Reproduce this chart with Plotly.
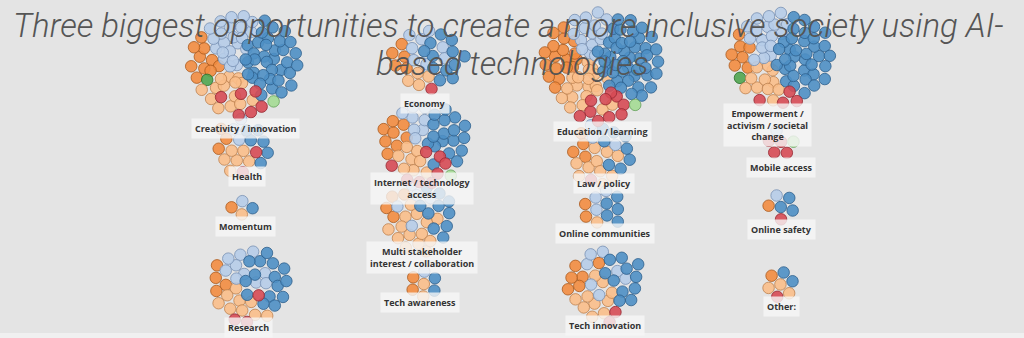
import numpy as np
import plotly.graph_objects as go

# Topics (one dot cluster each) and dot counts per respondent group
topics = [
    "Creativity / innovation", "Health", "Momentum", "Research",
    "Economy", "Internet / technology<br>access",
    "Multi stakeholder<br>interest / collaboration", "Tech awareness",
    "Education / learning", "Law / policy", "Online communities", "Tech innovation",
    "Empowerment /<br>activism / societal<br>change", "Mobile access",
    "Online safety", "Other:",
]
orange       = [10, 3, 1, 4,   5, 8, 4, 2,   18, 4, 2, 6,   7, 0, 1, 1]
light_orange = [14, 6, 1, 9,   4, 8, 14, 2,  20, 10, 1, 10, 11, 0, 0, 3]
light_blue   = [22, 3, 1, 10,  8, 8, 5, 1,   15, 3, 3, 7,   17, 1, 1, 0]
blue         = [36, 6, 1, 15,  12, 18, 10, 2, 45, 8, 5, 11, 35, 0, 3, 2]
red          = [6, 2, 0, 3,    1, 8, 0, 0,   10, 1, 0, 2,   4, 4, 1, 1]
green        = [1, 0, 0, 0,    0, 0, 0, 0,   0, 0, 0, 0,    1, 0, 0, 0]
light_green  = [1, 0, 0, 0,    0, 1, 0, 0,   1, 0, 0, 0,    0, 1, 0, 0]

groups = ["orange", "green", "light_orange", "light_blue", "blue", "red", "light_green"]
counts = {
    "orange": orange, "green": green, "light_orange": light_orange,
    "light_blue": light_blue, "blue": blue, "red": red, "light_green": light_green,
}

# ---- layout / styling (pixel space) ----
W, H = 1024, 338
cluster_xy = [
    (244, 64), (243, 146), (243, 208), (250, 285),
    (428, 60), (425, 142), (420, 216), (425, 284),
    (602, 64), (602, 153), (603, 209), (605, 284),
    (780, 58), (780, 140), (781, 206), (781, 283),
]
label_xy = [
    (245, 128), (247, 176), (245, 226), (248, 327),
    (425, 103), (422, 188), (422, 257), (420, 302),
    (602, 131), (604, 183), (605, 233), (605, 325),
    (767, 125), (781, 167), (781, 229), (781, 306),
]
# preferred position of each group inside a cluster (fraction of cluster radius)
group_pull = {
    "orange": (-0.85, -0.15), "green": (-0.85, 0.25), "light_orange": (-0.3, 0.45),
    "light_blue": (-0.25, -0.4), "blue": (0.55, -0.1), "red": (0.0, 0.85),
    "light_green": (0.45, 0.7),
}
fill = {
    "orange": "rgba(242,140,64,0.9)", "green": "rgba(80,165,80,0.9)",
    "light_orange": "rgba(249,190,138,0.9)", "light_blue": "rgba(182,204,232,0.9)",
    "blue": "rgba(78,143,196,0.9)", "red": "rgba(214,74,84,0.9)",
    "light_green": "rgba(164,218,148,0.9)",
}
edge = {
    "orange": "rgba(170,90,30,0.8)", "green": "rgba(40,110,40,0.8)",
    "light_orange": "rgba(190,130,80,0.8)", "light_blue": "rgba(120,145,180,0.8)",
    "blue": "rgba(45,95,140,0.8)", "red": "rgba(150,40,50,0.8)",
    "light_green": "rgba(100,160,90,0.8)",
}
DOT_R = 6.2


def pack_cluster(idx):
    """Force-style packing of one topic's dots around its anchor."""
    cx, cy = cluster_xy[idx]
    labels = []
    for g in groups:
        labels += [g] * counts[g][idx]
    n = len(labels)
    if n == 0:
        return np.zeros((0, 2)), labels
    R = DOT_R * np.sqrt(n) * 0.8
    tgt = np.array([group_pull[g] for g in labels]) * R + np.array([cx, cy])
    k = np.arange(n)
    ang = k * 2.39996
    rad = DOT_R * 0.6 * np.sqrt(k + 0.5)
    pos = tgt + np.c_[rad * np.cos(ang), rad * np.sin(ang)]
    centre = np.array([cx, cy])
    for _ in range(300):
        pos += 0.04 * (tgt - pos) + 0.05 * (centre - pos)
        for _ in range(3):
            d = pos[:, None, :] - pos[None, :, :]
            dist = np.sqrt((d ** 2).sum(-1)) + np.eye(n) * 1e9
            overlap = np.clip(2 * DOT_R - dist, 0, None)
            pos += (d / dist[..., None] * overlap[..., None] * 0.5).sum(1)
    return pos, labels


xs = {g: [] for g in groups}
ys = {g: [] for g in groups}
for i in range(len(topics)):
    pos, labels = pack_cluster(i)
    for (x, y), g in zip(pos, labels):
        xs[g].append(x)
        ys[g].append(y)

fig = go.Figure()
for g in groups:
    fig.add_trace(go.Scatter(
        x=xs[g], y=ys[g], mode="markers", name=g, hoverinfo="skip",
        marker=dict(size=11.5, color=fill[g], line=dict(color=edge[g], width=1)),
    ))

for t, (lx, ly) in zip(topics, label_xy):
    fig.add_annotation(
        x=lx, y=ly, text=t, showarrow=False, xanchor="center", yanchor="middle",
        font=dict(family="Open Sans", size=9, color="#333333", weight="bold"),
        bgcolor="rgba(246,246,246,0.8)", borderpad=3,
    )

# title, two lines
title_font = dict(family="Roboto", size=33, color="#555555", weight=300, style="italic")
fig.add_annotation(
    x=508, y=25, text="Three biggest opportunities to create a more inclusive society using AI-",
    showarrow=False, xanchor="center", yanchor="middle", font=title_font,
)
fig.add_annotation(
    x=512, y=63, text="based technologies",
    showarrow=False, xanchor="center", yanchor="middle", font=title_font,
)

fig.add_shape(type="rect", x0=0, x1=W, y0=333, y1=H, line_width=0,
              fillcolor="#f0f0f0", layer="below")

fig.update_layout(
    width=W, height=H, margin=dict(l=0, r=0, t=0, b=0),
    paper_bgcolor="#e4e4e4", plot_bgcolor="#e4e4e4", showlegend=False,
    xaxis=dict(range=[0, W], visible=False, fixedrange=True),
    yaxis=dict(range=[H, 0], visible=False, fixedrange=True),
)
fig.write_html("out.html")
